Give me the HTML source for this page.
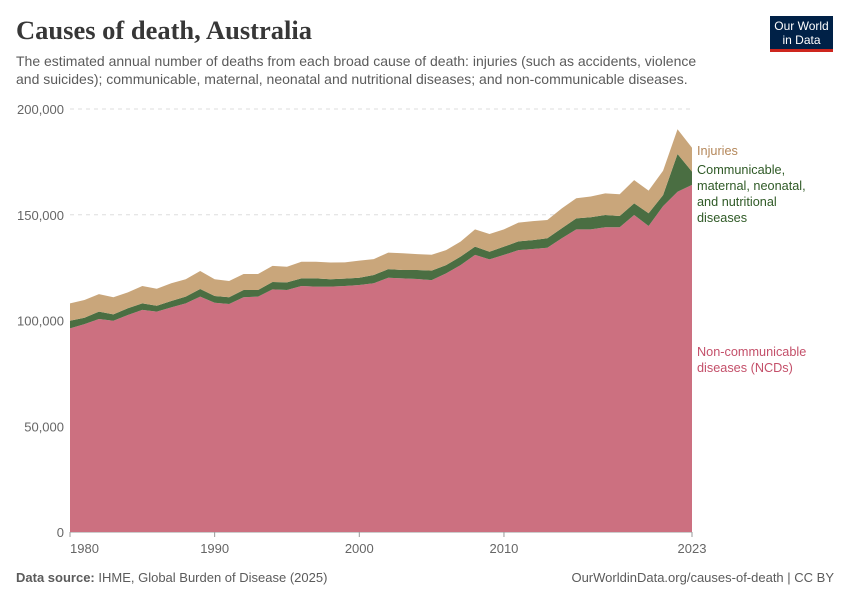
<!DOCTYPE html>
<html><head><meta charset="utf-8"><style>
body{margin:0;background:#fff;font-family:"Liberation Sans",sans-serif;}
svg text{font-family:"Liberation Sans",sans-serif;}
</style></head><body>
<svg id="chart" width="850" height="600" viewBox="0 0 850 600" xmlns="http://www.w3.org/2000/svg">
<text x="16" y="39" font-size="26.5" font-weight="bold" fill="#373737" style="font-family:'Liberation Serif',serif">Causes of death, Australia</text>
<text x="16" y="66" font-size="14" fill="#5b5b5b">The estimated annual number of deaths from each broad cause of death: injuries (such as accidents, violence</text>
<text x="16" y="84" font-size="14" fill="#5b5b5b">and suicides); communicable, maternal, neonatal and nutritional diseases; and non-communicable diseases.</text>
<g>
<rect x="770" y="16" width="63" height="33" fill="#002147"/>
<rect x="770" y="49" width="63" height="3" fill="#ce261e"/>
<text x="801.5" y="30" font-size="12" fill="#fff" text-anchor="middle">Our World</text>
<text x="801.5" y="44" font-size="12" fill="#fff" text-anchor="middle">in Data</text>
</g>
<g id="grid"></g>
<g id="areas"></g>
<g id="labels"></g>
<text x="16" y="582" font-size="13" fill="#5b5b5b"><tspan font-weight="bold">Data source:</tspan> IHME, Global Burden of Disease (2025)</text>
<text x="834" y="582" font-size="13" fill="#5b5b5b" text-anchor="end">OurWorldinData.org/causes-of-death | CC BY</text>
</svg>
<script>
const years = [1980,1981,1982,1983,1984,1985,1986,1987,1988,1989,1990,1991,1992,1993,1994,1995,1996,1997,1998,1999,2000,2001,2002,2003,2004,2005,2006,2007,2008,2009,2010,2011,2012,2013,2014,2015,2016,2017,2018,2019,2020,2021,2022,2023];
const ncd = [96300,98300,100700,99900,102600,105000,104200,106200,108100,111300,108400,107800,111000,111300,114700,114400,116300,116000,116000,116300,116800,117600,120200,119900,119600,119100,122300,126200,131000,128900,131000,133300,133800,134400,138900,143100,143100,144100,144100,149900,144700,154100,160900,164100];
const communicable = [3600,3000,3500,3000,3200,3100,2800,3000,3200,3600,3200,3200,3400,3100,3500,3600,3600,3900,3500,3500,3400,3900,4100,4000,4300,4500,3900,4000,3900,3600,3900,4100,4200,4500,4700,5200,5700,5800,5300,5500,6000,5200,17800,6300];
const injuries = [8200,8400,8300,8100,7500,8200,8000,8400,8200,8500,7900,7700,7600,7600,7600,7400,7900,7900,7900,7700,8100,7500,7800,7900,7500,7500,7100,7100,8200,8400,8200,8900,9000,8600,9400,9500,9800,10200,10300,11000,10700,11500,11700,11300];
const yTicks = [0,50000,100000,150000,200000];
const xTicks = [1980,1990,2000,2010,2023];
const NS="http://www.w3.org/2000/svg";
function xs(yr){return 70+(yr-1980)*(692-70)/43;}
function ys(v){return 532-v*(532-109)/200000;}
function mk(tag,attrs,parent){const e=document.createElementNS(NS,tag);for(const k in attrs)e.setAttribute(k,attrs[k]);parent.appendChild(e);return e;}
const grid=document.getElementById('grid'),areas=document.getElementById('areas'),labels=document.getElementById('labels');
yTicks.forEach(t=>{
  const l=mk('line',{x1:70,x2:692,y1:ys(t),y2:ys(t),stroke:t===0?'#999':'#ddd','stroke-dasharray':t===0?'':'4,4'},grid);
  
  
  const tx=mk('text',{x:64,y:ys(t)+5,'font-size':13,fill:'#666','text-anchor':'end'},grid);
  tx.textContent=t.toLocaleString('en-US');
  
  
});
xTicks.forEach(t=>{
  const tx=mk('text',{x:xs(t),y:553,'font-size':13,fill:'#666','text-anchor':t===1980?'start':'middle'},grid);
  tx.textContent=t;
  
  
  const tk=mk('line',{x1:xs(t),x2:xs(t),y1:532,y2:537,stroke:'#999'},grid);
  
  
});
const c1=ncd.map(v=>v), c2=ncd.map((v,i)=>v+communicable[i]), c3=c2.map((v,i)=>v+injuries[i]);
const base=ncd.map(()=>0);
function area(lo,hi,fill,name){
  let d='M'+years.map((y,i)=>xs(y)+','+ys(hi[i])).join('L');
  for(let i=years.length-1;i>=0;i--)d+='L'+xs(years[i])+','+ys(lo[i]);
  const p=mk('path',{d:d+'Z',fill:fill},areas);
  
  
}
area(base,c1,'#cc7080','area-ncds');
area(c1,c2,'#4a6e42','area-communicable');
area(c2,c3,'#c9a67b','area-injuries');
const leg=[['Injuries','#b4875a',[155],'legend-injuries'],['Communicable,|maternal, neonatal,|and nutritional|diseases','#2f5a26',[174,190,206,222],'legend-communicable'],['Non-communicable|diseases (NCDs)','#c4506a',[356,372],'legend-ncds']];
leg.forEach(([txt,col,ysArr,name])=>{
  const t=mk('text',{x:697,'font-size':12.7,fill:col},labels);
  
  
  txt.split('|').forEach((s,i)=>{const ts=mk('tspan',{x:697,y:ysArr[i]},t);ts.textContent=s;});
});
</script>
</body></html>
